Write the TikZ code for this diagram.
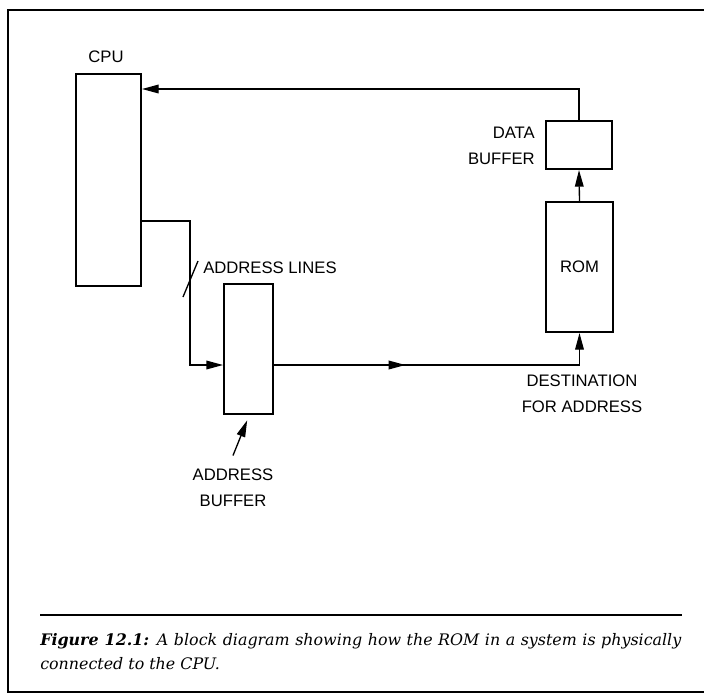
\documentclass[tikz,border=0pt]{standalone}
\usepackage{fontspec}
\setmainfont{DejaVu Serif}
\newfontfamily\labelfont{Liberation Sans}
\usetikzlibrary{positioning,arrows.meta,calc}

\begin{document}
\begin{tikzpicture}[
    x=0.75pt, y=-0.75pt,
    blk/.style={draw, line width=1.5pt, inner sep=0pt},
    lab/.style={font=\labelfont\fontsize{12.5}{19.5}\selectfont, align=center, inner sep=0pt},
    arr/.style={-{Triangle[length=12.5pt, width=6.5pt]}, line width=1pt},
    wire/.style={line width=1pt},
    captext/.style={font=\itshape\fontsize{11.9}{18}\selectfont, align=justify, inner sep=0pt}]
\useasboundingbox (0,0) rectangle (704,694);

% --- frame
\draw[line width=1.6pt] (8,10) rectangle (720,692);

% --- blocks
\node[blk, minimum width=48.75pt, minimum height=159pt] (cpu) at (108.5,180) {};
\node[lab] (cpulab) at (106,57) {CPU};
\node[blk, minimum width=49.5pt, minimum height=36pt] (databuf) at (579,145) {};
\node[lab, align=right, anchor=east] (dblab) at (535,146) {DATA\\BUFFER};
\node[blk, minimum width=50.25pt, minimum height=97.5pt] (rom) at (579.5,267) {\labelfont\fontsize{12.5}{15}\selectfont ROM};
\node[blk, minimum width=36.75pt, minimum height=97.5pt] (addrbuf) at (248.5,349) {};

% --- labels
\node[lab, anchor=west] (lineslab) at (203,268) {ADDRESS LINES};
\node[lab] (ablab) at (233,488) {ADDRESS\\BUFFER};
\node[lab] (destlab) at (582,394) {DESTINATION\\FOR ADDRESS};

% --- data path back to the CPU
\coordinate (top) at (578,89);
\draw[arr] (databuf.north) |- (cpu.east |- top);
\draw[arr] (rom.north) -- (databuf.south);

% --- address path
\coordinate (bus) at (190,221);
\coordinate (row) at (190,365);
\draw[arr] (cpu.east |- bus) -| (row) -- (addrbuf.west |- row);
\draw[wire] (183,297) -- (198,261);
\draw[arr] (addrbuf.east |- row) -- ($(addrbuf.east |- row)!0.43!(rom.south |- row)$);
\draw[arr] (addrbuf.east |- row) -| (rom.south);
\draw[arr] ([yshift=10pt]ablab.north) -- ([xshift=-1pt,yshift=-4pt]addrbuf.south);

% --- caption
\node[captext, text width=480.75pt, anchor=north west] (caption) at (40,633)
    {\textbf{Figure 12.1:} A block diagram showing how the ROM in a system is physically\linebreak connected to the CPU.};
\draw[line width=1.2pt] ([yshift=13.5pt]caption.north west) -- ([yshift=13.5pt]caption.north east);
\end{tikzpicture}
\end{document}
